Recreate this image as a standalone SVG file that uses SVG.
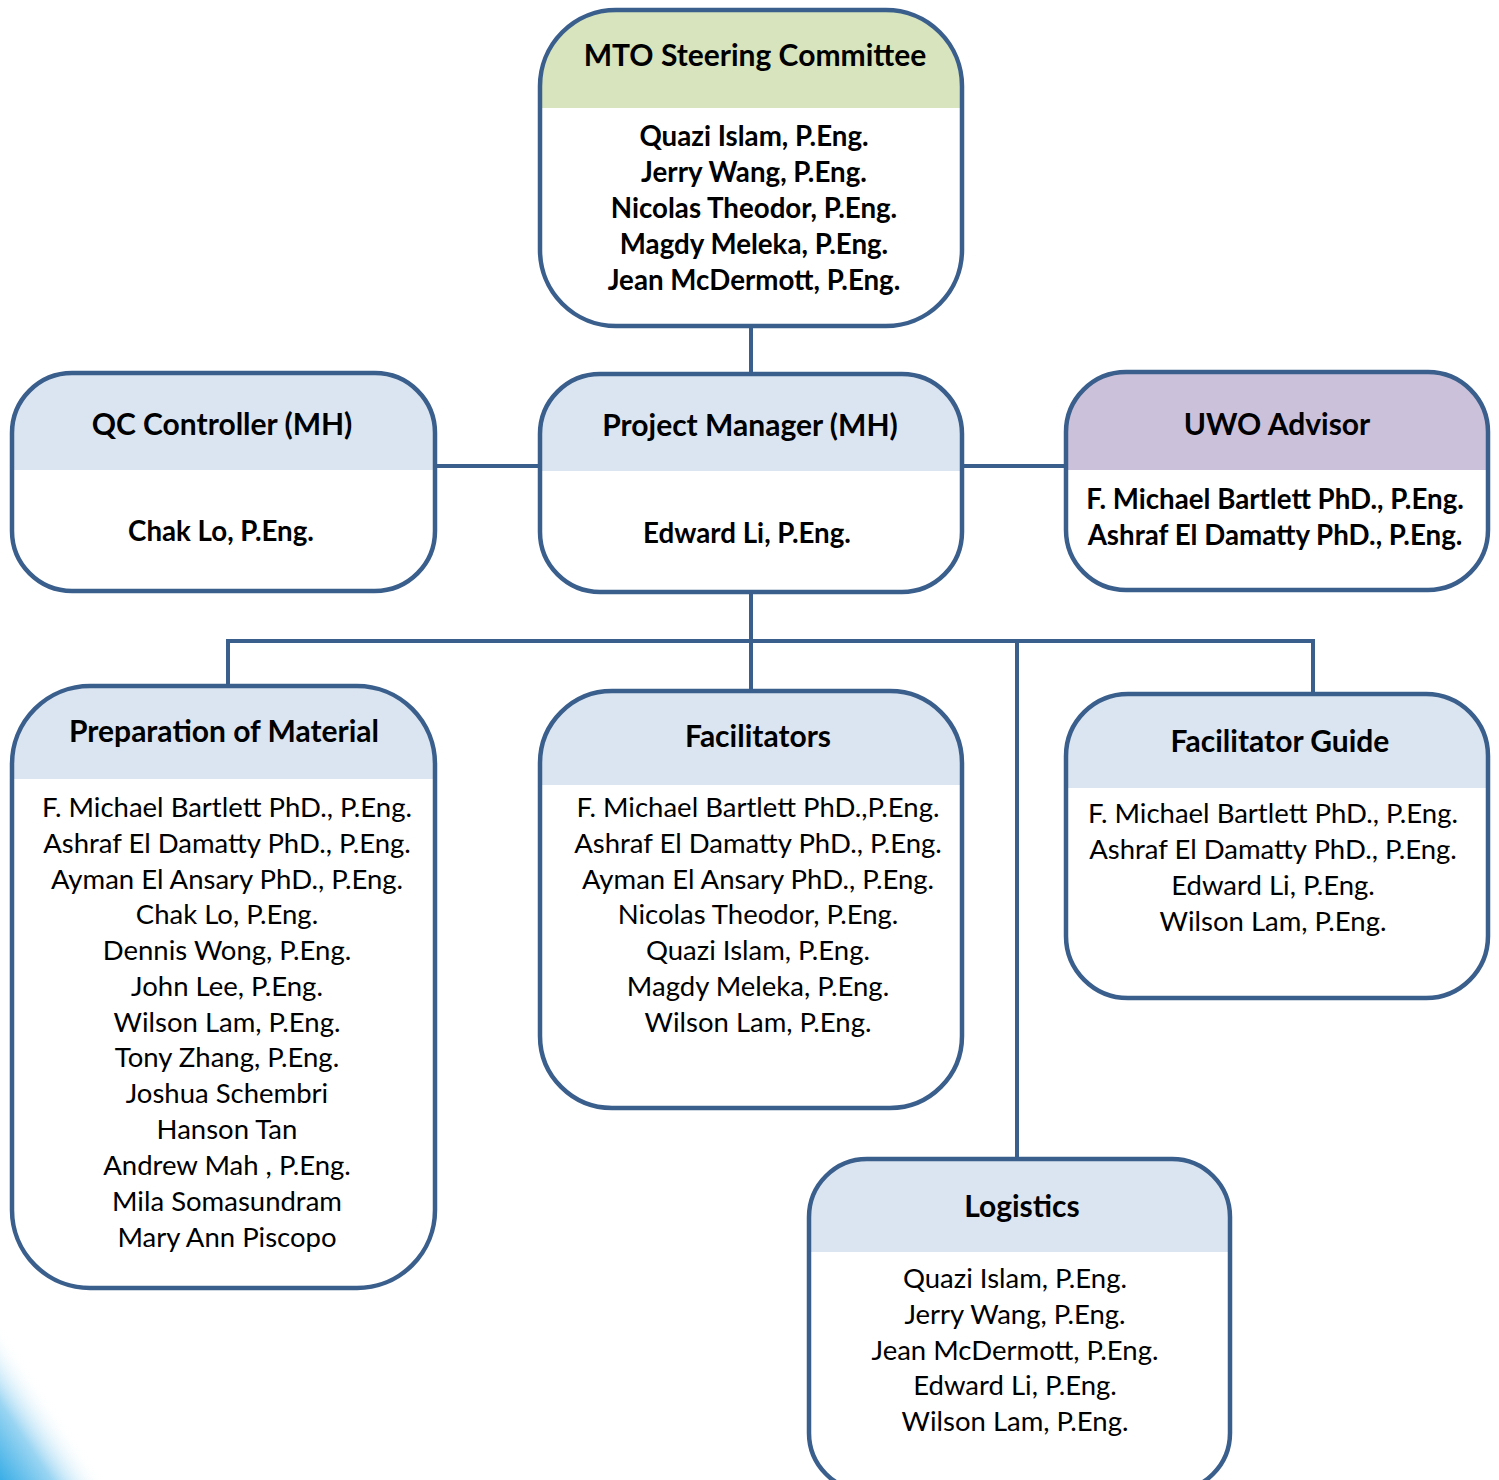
<svg xmlns="http://www.w3.org/2000/svg" width="1499" height="1480" viewBox="0 0 1499 1480">
<defs>
<linearGradient id="corner" gradientUnits="userSpaceOnUse" x1="0" y1="1480" x2="72" y2="1432">
<stop offset="0" stop-color="#3AAEE6"/>
<stop offset="0.5" stop-color="#9AD5F2"/>
<stop offset="1" stop-color="#FFFFFF" stop-opacity="0"/>
</linearGradient>
</defs>
<style>
.box{fill:none;stroke:#3A5F8D;stroke-width:4.5}
.bg{fill:#FFFFFF}
.hb{fill:#DBE5F1}
.hg{fill:#D7E4BD}
.hp{fill:#CCC1DA}
.conn line{stroke:#3A5F8D;stroke-width:4}
text{font-family:Lato,"Open Sans","Liberation Sans",sans-serif;fill:#000;text-anchor:middle}
.t{font-size:30px;font-weight:bold}
.b{font-size:27.7px;font-weight:bold}
.r{font-size:27.5px}
</style>
<rect width="1499" height="1480" fill="#FFFFFF"/>
<polygon points="0,1300 0,1480 125,1480" fill="url(#corner)"/>

<g id="connectors" class="conn">
<line x1="751" y1="326" x2="751" y2="374"/>
<line x1="435" y1="466" x2="540" y2="466"/>
<line x1="962" y1="466" x2="1066" y2="466"/>
<line x1="751" y1="592" x2="751" y2="691"/>
<line x1="226" y1="641" x2="1315" y2="641"/>
<line x1="228" y1="641" x2="228" y2="686"/>
<line x1="1313" y1="641" x2="1313" y2="694"/>
<line x1="1017" y1="641" x2="1017" y2="1159"/>
</g>

<g id="mto">
<rect class="bg" x="540" y="10" width="422" height="316" rx="76"/>
<path class="hg" d="M540,108 V86 A76,76 0 0 1 616,10 H886 A76,76 0 0 1 962,86 V108 Z"/>
<rect class="box" x="540" y="10" width="422" height="316" rx="76"/>
<text class="t" x="755" y="66">MTO Steering Committee</text>
<text class="b" x="754" y="146">Quazi Islam, P.Eng.</text>
<text class="b" x="754" y="182">Jerry Wang, P.Eng.</text>
<text class="b" x="754" y="218">Nicolas Theodor, P.Eng.</text>
<text class="b" x="754" y="254">Magdy Meleka, P.Eng.</text>
<text class="b" x="754" y="290">Jean McDermott, P.Eng.</text>
</g>

<g id="qc">
<rect class="bg" x="12" y="373" width="423" height="218" rx="60"/>
<path class="hb" d="M12,470 V433 A60,60 0 0 1 72,373 H375 A60,60 0 0 1 435,433 V470 Z"/>
<rect class="box" x="12" y="373" width="423" height="218" rx="60"/>
<text class="t" x="222" y="435">QC Controller (MH)</text>
<text class="b" x="221" y="541">Chak Lo, P.Eng.</text>
</g>

<g id="pm">
<rect class="bg" x="540" y="374" width="422" height="218" rx="60"/>
<path class="hb" d="M540,471 V434 A60,60 0 0 1 600,374 H902 A60,60 0 0 1 962,434 V471 Z"/>
<rect class="box" x="540" y="374" width="422" height="218" rx="60"/>
<text class="t" x="750" y="436">Project Manager (MH)</text>
<text class="b" x="747" y="543">Edward Li, P.Eng.</text>
</g>

<g id="uwo">
<rect class="bg" x="1066" y="372" width="422" height="218" rx="60"/>
<path class="hp" d="M1066,470 V432 A60,60 0 0 1 1126,372 H1428 A60,60 0 0 1 1488,432 V470 Z"/>
<rect class="box" x="1066" y="372" width="422" height="218" rx="60"/>
<text class="t" x="1277" y="435">UWO Advisor</text>
<text class="b" x="1275" y="509">F. Michael Bartlett PhD., P.Eng.</text>
<text class="b" x="1275" y="545">Ashraf El Damatty PhD., P.Eng.</text>
</g>

<g id="prep">
<rect class="bg" x="12" y="686" width="423" height="602" rx="78"/>
<path class="hb" d="M12,779 V764 A78,78 0 0 1 90,686 H357 A78,78 0 0 1 435,764 V779 Z"/>
<rect class="box" x="12" y="686" width="423" height="602" rx="78"/>
<text class="t" x="224" y="742">Preparation of Material</text>
<text class="r" x="227" y="817">F. Michael Bartlett PhD., P.Eng.</text>
<text class="r" x="227" y="853">Ashraf El Damatty PhD., P.Eng.</text>
<text class="r" x="227" y="889">Ayman El Ansary PhD., P.Eng.</text>
<text class="r" x="227" y="924">Chak Lo, P.Eng.</text>
<text class="r" x="227" y="960">Dennis Wong, P.Eng.</text>
<text class="r" x="227" y="996">John Lee, P.Eng.</text>
<text class="r" x="227" y="1032">Wilson Lam, P.Eng.</text>
<text class="r" x="227" y="1067">Tony Zhang, P.Eng.</text>
<text class="r" x="227" y="1103">Joshua Schembri</text>
<text class="r" x="227" y="1139">Hanson Tan</text>
<text class="r" x="227" y="1175">Andrew Mah , P.Eng.</text>
<text class="r" x="227" y="1211">Mila Somasundram</text>
<text class="r" x="227" y="1247">Mary Ann Piscopo</text>
</g>

<g id="facilitators">
<rect class="bg" x="540" y="691" width="422" height="417" rx="72"/>
<path class="hb" d="M540,785 V763 A72,72 0 0 1 612,691 H890 A72,72 0 0 1 962,763 V785 Z"/>
<rect class="box" x="540" y="691" width="422" height="417" rx="72"/>
<text class="t" x="758" y="747">Facilitators</text>
<text class="r" x="758" y="817">F. Michael Bartlett PhD.,P.Eng.</text>
<text class="r" x="758" y="853">Ashraf El Damatty PhD., P.Eng.</text>
<text class="r" x="758" y="889">Ayman El Ansary PhD., P.Eng.</text>
<text class="r" x="758" y="924">Nicolas Theodor, P.Eng.</text>
<text class="r" x="758" y="960">Quazi Islam, P.Eng.</text>
<text class="r" x="758" y="996">Magdy Meleka, P.Eng.</text>
<text class="r" x="758" y="1032">Wilson Lam, P.Eng.</text>
</g>

<g id="facilitator-guide">
<rect class="bg" x="1066" y="694" width="422" height="304" rx="62"/>
<path class="hb" d="M1066,788 V756 A62,62 0 0 1 1128,694 H1426 A62,62 0 0 1 1488,756 V788 Z"/>
<rect class="box" x="1066" y="694" width="422" height="304" rx="62"/>
<text class="t" x="1280" y="752">Facilitator Guide</text>
<text class="r" x="1273" y="823">F. Michael Bartlett PhD., P.Eng.</text>
<text class="r" x="1273" y="859">Ashraf El Damatty PhD., P.Eng.</text>
<text class="r" x="1273" y="895">Edward Li, P.Eng.</text>
<text class="r" x="1273" y="931">Wilson Lam, P.Eng.</text>
</g>

<g id="logistics">
<rect class="bg" x="809" y="1159" width="421" height="332" rx="58"/>
<path class="hb" d="M809,1252 V1217 A58,58 0 0 1 867,1159 H1172 A58,58 0 0 1 1230,1217 V1252 Z"/>
<rect class="box" x="809" y="1159" width="421" height="332" rx="58"/>
<text class="t" x="1022" y="1217">Logistics</text>
<text class="r" x="1015" y="1288">Quazi Islam, P.Eng.</text>
<text class="r" x="1015" y="1324">Jerry Wang, P.Eng.</text>
<text class="r" x="1015" y="1360">Jean McDermott, P.Eng.</text>
<text class="r" x="1015" y="1395">Edward Li, P.Eng.</text>
<text class="r" x="1015" y="1431">Wilson Lam, P.Eng.</text>
</g>
</svg>
